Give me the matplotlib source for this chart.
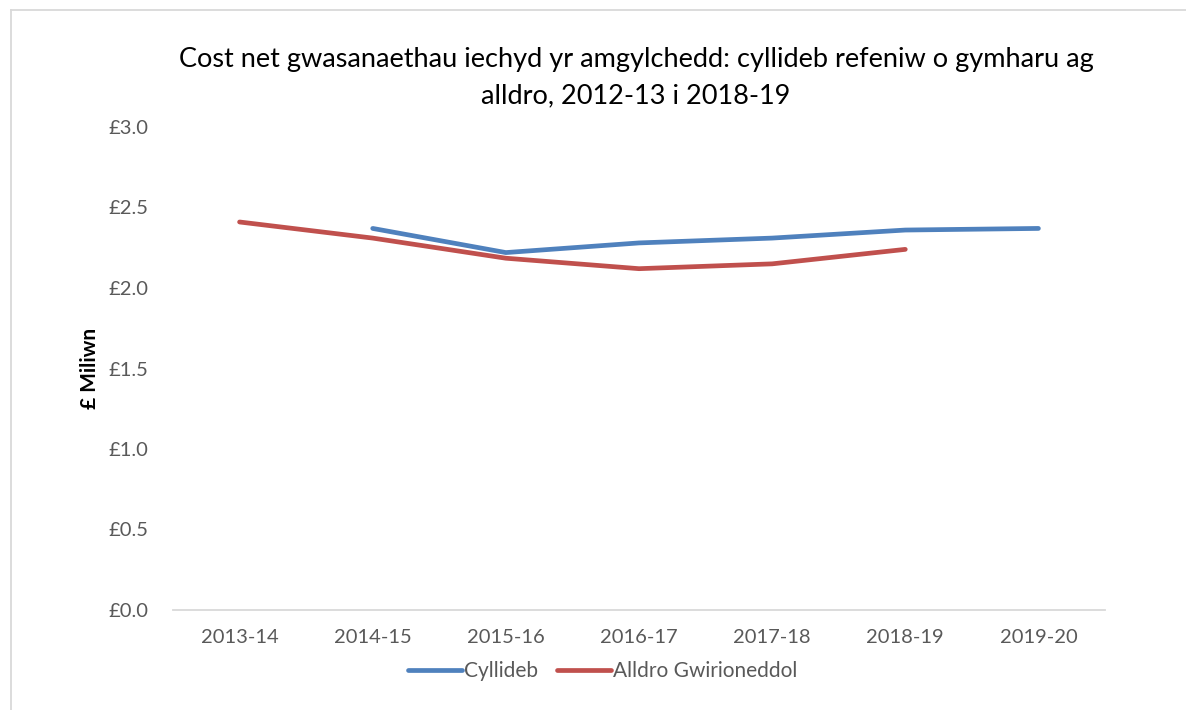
import matplotlib.pyplot as plt
from matplotlib.lines import Line2D

years = ['2013-14', '2014-15', '2015-16', '2016-17', '2017-18', '2018-19', '2019-20']
cyllideb = [None, 2.37, 2.22, 2.28, 2.31, 2.36, 2.37]
alldro = [2.41, 2.31, 2.185, 2.12, 2.15, 2.24, None]
y_ticks = [0.0, 0.5, 1.0, 1.5, 2.0, 2.5, 3.0]

plt.rcParams['font.family'] = ['Lato', 'DejaVu Sans']

W, H = 1186, 710
fig = plt.figure(figsize=(W / 100, H / 100), dpi=100)
ax = fig.add_axes([173 / W, 1 - 610 / H, (1105 - 173) / W, (610 - 127) / H])

x = list(range(len(years)))


def series(vals):
    pts = [(i, v) for i, v in zip(x, vals) if v is not None]
    return [p[0] for p in pts], [p[1] for p in pts]


bx, by = series(cyllideb)
rx, ry = series(alldro)
ax.plot(bx, by, color='#4f81bd', linewidth=3.4, solid_capstyle='round', label='Cyllideb')
ax.plot(rx, ry, color='#c0504d', linewidth=3.4, solid_capstyle='round', label='Alldro Gwirioneddol')

ax.set_xlim(-0.5, len(years) - 0.5)
ax.set_ylim(0, 3.0)
ax.set_xticks(x)
ax.set_xticklabels(years)
ax.set_yticks(y_ticks)
ax.set_yticklabels(['£%.1f' % v for v in y_ticks])
ax.tick_params(axis='both', length=0, labelsize=14.5, colors='#595959')
ax.tick_params(axis='x', pad=14)
ax.tick_params(axis='y', pad=18)

for side in ['top', 'right', 'left']:
    ax.spines[side].set_visible(False)
ax.spines['bottom'].set_color('#d9d9d9')
ax.spines['bottom'].set_linewidth(1.3)

ax.set_ylabel('£ Miliwn', fontsize=15, fontweight='bold', color='black', labelpad=6)

fig.text(636 / W, 1 - 60 / H, 'Cost net gwasanaethau iechyd yr amgylchedd: cyllideb refeniw o gymharu ag',
         ha='center', va='center', fontsize=19.5, color='black')
fig.text(636 / W, 1 - 96 / H, 'alldro, 2012-13 i 2018-19',
         ha='center', va='center', fontsize=19.5, color='black')

fig.legend(loc='center', bbox_to_anchor=(603 / W, 1 - 671 / H), ncol=2, frameon=False,
           fontsize=15, handlelength=2.6, handletextpad=0.1, columnspacing=0.9,
           labelcolor='#595959')

# outer chart border (cropped on right and bottom)
fig.add_artist(Line2D([11 / W, 11 / W], [0, 1 - 10 / H], color='#d9d9d9', linewidth=1.3))
fig.add_artist(Line2D([11 / W, 1], [1 - 10 / H, 1 - 10 / H], color='#d9d9d9', linewidth=1.3))

fig.savefig('out.png', dpi=100)
